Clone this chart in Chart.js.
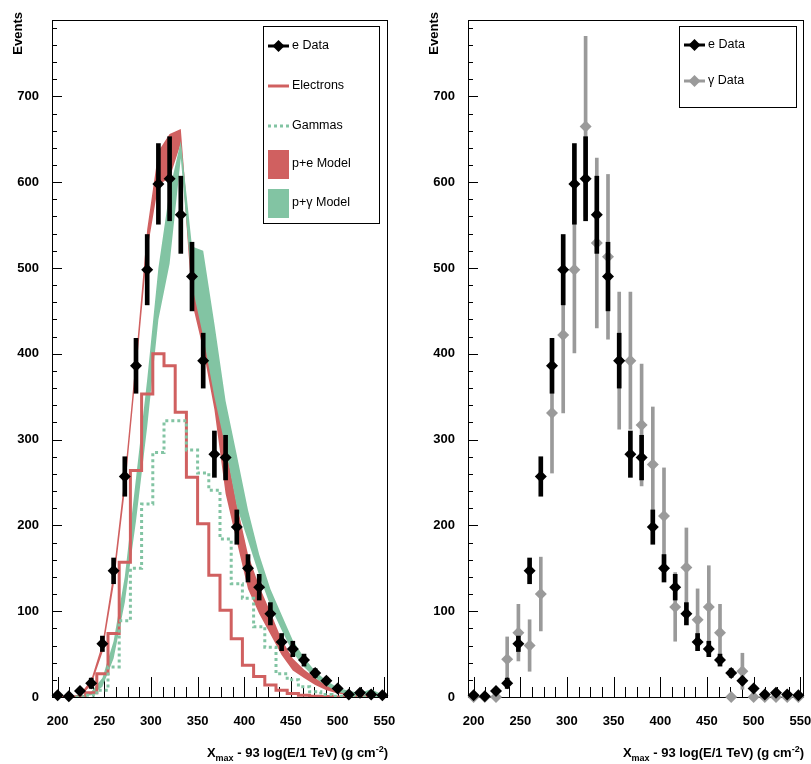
<!DOCTYPE html>
<html>
<head>
<meta charset="utf-8">
<script src="https://cdn.jsdelivr.net/npm/chart.js@4.4.1/dist/chart.umd.min.js"></script>
<style>
  html, body { margin: 0; padding: 0; background: #fff; }
  #wrap { position: relative; width: 811px; height: 764px; }
  canvas { position: absolute; top: 0; }
  #cL { left: 0; }
  #cR { left: 420px; }
</style>
</head>
<body>
<div id="wrap">
  <canvas id="cL" width="420" height="764"></canvas>
  <canvas id="cR" width="391" height="764"></canvas>
</div>
<script>
// bin centres (g cm^-2), 12 wide
const bins = [200, 212, 224, 236, 248, 260, 272, 284, 296, 308, 320, 332, 344, 356, 368,
              380, 392, 404, 416, 428, 440, 452, 464, 476, 488, 500, 512, 524, 536, 548];

// e data and errors
const eData = [2, 1, 7, 16, 62, 147, 257, 386, 498, 598, 604, 562, 490, 392, 283,
               279, 198, 150, 128, 97, 64, 56, 43, 28, 19, 10, 3, 5, 3, 2];
const eErr  = [1, 1, 3, 6, 9, 15, 23, 32, 41, 47, 49, 45, 40, 32, 27,
               26, 20, 16, 15, 13, 10, 9, 7, 5, 4, 3, 2, 2, 2, 1];

// gamma data and errors
const gData = [0, 0, 0, 44, 75, 60, 120, 331, 422, 498, 665, 529, 513, 392, 392,
               317, 271, 211, 105, 151, 90, 105, 75, 0, 30, 0, 0, 0, 0, 0];
const gErr  = [0, 0, 0, 26, 33, 30, 43, 70, 91, 97, 105, 99, 96, 80, 80,
               71, 67, 56, 40, 46, 36, 48, 33, 0, 21, 0, 0, 0, 0, 0];

// simulated histograms
const electrons = [0, 0, 0, 5, 27, 74, 157, 264, 353, 400, 386, 332, 256, 202, 142,
                   101, 68, 37, 24, 14, 8, 4, 2, 1, 0.5, 0, 0, 0, 0, 0];
const gammas    = [0, 0, 0, 2, 8, 35, 89, 150, 225, 285, 322, 322, 288, 261, 241,
                   184, 132, 115, 82, 58, 27, 20, 12, 6, 3, 1, 0.5, 0, 0, 0];

// model bands (low / high)
const peLow  = [0, 0, 0, 14, 52, 130, 240, 378, 520, 597, 605, 645, 460, 405, 335,
                237, 181, 126, 97, 73, 49, 31, 22, 14, 8, 4, 2, 1, 0, 0];
const peHigh = [0, 0, 3, 20, 62, 145, 258, 396, 545, 636, 656, 662, 495, 445, 395,
                293, 225, 166, 129, 99, 67, 45, 32, 22, 14, 8, 4, 3, 2, 1];
const pgLow  = [0, 0, 0, 2, 12, 45, 110, 205, 315, 440, 505, 628, 480, 420, 350,
                290, 222, 182, 142, 106, 78, 52, 35, 22, 13, 6, 3, 2, 4, 0];
const pgHigh = [0, 0, 1, 6, 22, 65, 140, 255, 370, 500, 590, 648, 525, 520, 435,
                345, 282, 218, 166, 126, 96, 66, 46, 30, 19, 11, 7, 5, 9, 3];

const xTicks = [200, 250, 300, 350, 400, 450, 500, 550];
const yTicks = [0, 100, 200, 300, 400, 500, 600, 700];

const RED = '#d06060';
const GREEN = '#82c4a3';
const GREY = '#9a9a9a';
const FONT = '"Liberation Sans", Arial, Helvetica, sans-serif';

const pts = (ys) => bins.map((x, i) => ({ x: x, y: ys[i] }));
const errs = (ys, es) => bins.map((x, i) => ({ x: x, y: [ys[i] - es[i], ys[i] + es[i]] }));

function pointSet(ys, color) {
  return { type: 'line', data: pts(ys), showLine: false, pointStyle: 'rectRot',
           pointRadius: 6, pointBackgroundColor: color, pointBorderWidth: 0, clip: false };
}
function errSet(ys, es, color, w) {
  return { type: 'bar', data: errs(ys, es), backgroundColor: color, barThickness: w,
           grouped: false, borderWidth: 0 };
}
function stepSet(ys, color, dash) {
  return { type: 'line', data: pts(ys), stepped: 'middle', borderColor: color, borderWidth: 3,
           borderDash: dash, pointRadius: 0, fill: false, borderCapStyle: 'butt' };
}
function bandSet(ys, color, fill) {
  return { type: 'line', data: pts(ys), borderWidth: 0, borderColor: 'rgba(0,0,0,0)',
           backgroundColor: color, pointRadius: 0, tension: 0, fill: fill };
}

function diamond(ctx, x, y, r) {
  ctx.beginPath();
  ctx.moveTo(x, y - r); ctx.lineTo(x + r, y); ctx.lineTo(x, y + r); ctx.lineTo(x - r, y);
  ctx.closePath(); ctx.fill();
}

function rootFrame(legend) {
  return {
    id: 'rootFrame',
    beforeDatasetsDraw(chart) {
      const ctx = chart.ctx, a = chart.chartArea;
      const xs = chart.scales.x, ys = chart.scales.y;
      ctx.save();
      ctx.strokeStyle = '#000';
      ctx.lineWidth = 1;
      ctx.strokeRect(a.left + 0.5, a.top + 0.5, a.right - a.left - 1, a.bottom - a.top);
      ctx.beginPath();
      for (let v = xTicks[0]; v <= xs.max; v += 12.5) {
        const px = Math.round(xs.getPixelForValue(v)) + 0.5;
        const len = (v - xTicks[0]) % 50 === 0 ? 20 : 10;
        ctx.moveTo(px, a.bottom); ctx.lineTo(px, a.bottom - len);
      }
      for (let v = 0; v <= ys.max; v += 20) {
        const py = Math.round(ys.getPixelForValue(v)) + 0.5;
        const len = v % 100 === 0 ? 10 : 5;
        ctx.moveTo(a.left, py); ctx.lineTo(a.left + len, py);
      }
      ctx.stroke();
      ctx.restore();
    },
    afterDraw(chart) {
      const ctx = chart.ctx, a = chart.chartArea;
      ctx.save();
      // y title
      ctx.font = 'bold 13px ' + FONT;
      ctx.fillStyle = '#000';
      ctx.translate(a.left - 34, 12);
      ctx.rotate(-Math.PI / 2);
      ctx.textAlign = 'right';
      ctx.textBaseline = 'middle';
      ctx.fillText('Events', 0, 0);
      ctx.restore();

      // x title with sub/superscript
      ctx.save();
      const parts = [
        ['X', 13, 0], ['max', 9, 4], [' - 93 log(E/1 TeV) (g cm', 13, 0], ['-2', 9, -5], [')', 13, 0]
      ];
      let total = 0;
      parts.forEach(p => { ctx.font = 'bold ' + p[1] + 'px ' + FONT; total += ctx.measureText(p[0]).width; });
      let x = a.right - total;
      ctx.textBaseline = 'alphabetic';
      ctx.fillStyle = '#000';
      parts.forEach(p => {
        ctx.font = 'bold ' + p[1] + 'px ' + FONT;
        ctx.fillText(p[0], x, 757 + p[2]);
        x += ctx.measureText(p[0]).width;
      });
      ctx.restore();

      // legend box
      ctx.save();
      const L = legend;
      ctx.fillStyle = '#fff';
      ctx.fillRect(L.x, L.y, L.w, L.h);
      ctx.strokeStyle = '#000';
      ctx.lineWidth = 1;
      ctx.strokeRect(L.x + 0.5, L.y + 0.5, L.w, L.h);
      ctx.font = '12.5px ' + FONT;
      ctx.textBaseline = 'middle';
      L.items.forEach(it => {
        const x0 = L.x + 5, x1 = L.x + 26, y = it.y;
        if (it.kind === 'data') {
          ctx.strokeStyle = it.color; ctx.fillStyle = it.color; ctx.lineWidth = 3;
          ctx.beginPath(); ctx.moveTo(x0, y); ctx.lineTo(x1, y); ctx.stroke();
          diamond(ctx, (x0 + x1) / 2, y, 6);
        } else if (it.kind === 'line') {
          ctx.strokeStyle = it.color; ctx.lineWidth = 3; ctx.setLineDash(it.dash || []);
          ctx.beginPath(); ctx.moveTo(x0, y); ctx.lineTo(x1, y); ctx.stroke();
          ctx.setLineDash([]);
        } else if (it.kind === 'box') {
          ctx.fillStyle = it.color;
          ctx.fillRect(x0, y - 14, x1 - x0, 29);
        }
        ctx.fillStyle = '#000';
        ctx.fillText(it.label, x1 + 3, y);
      });
      ctx.restore();
    }
  };
}

function makePanel(id, datasets, yWidth, padRight, legend) {
  return new Chart(document.getElementById(id), {
    type: 'line',
    data: { datasets: datasets },
    options: {
      responsive: false,
      animation: false,
      devicePixelRatio: 1,
      layout: { padding: { top: 20, right: padRight, left: 0, bottom: 0 } },
      plugins: { legend: { display: false }, tooltip: { enabled: false } },
      scales: {
        x: {
          type: 'linear', min: 194, max: 554, offset: false,
          grid: { display: false }, border: { display: false },
          afterBuildTicks: s => { s.ticks = xTicks.map(v => ({ value: v })); },
          afterFit: s => { s.height = 67; s.paddingLeft = 0; s.paddingRight = 0; },
          ticks: { color: '#000', padding: 9, maxRotation: 0, autoSkip: false,
                   font: { family: FONT, size: 13, weight: 'bold' } }
        },
        y: {
          type: 'linear', min: 0, max: 789,
          grid: { display: false }, border: { display: false },
          afterBuildTicks: s => { s.ticks = yTicks.map(v => ({ value: v })); },
          afterFit: s => { s.width = yWidth; s.paddingTop = 0; s.paddingBottom = 0; },
          ticks: { color: '#000', padding: 5,
                   font: { family: FONT, size: 13, weight: 'bold' } }
        }
      }
    },
    plugins: [rootFrame(legend)]
  });
}

document.addEventListener('DOMContentLoaded', function () {
  makePanel('cL', [
    pointSet(eData, '#000'),
    errSet(eData, eErr, '#000', 4),
    stepSet(gammas, GREEN, [3, 3]),
    stepSet(electrons, RED, []),
    bandSet(pgHigh, GREEN, '+1'),
    bandSet(pgLow, GREEN, false),
    bandSet(peHigh, RED, '+1'),
    bandSet(peLow, RED, false)
  ], 52, 32, {
    x: 263, y: 26, w: 116, h: 197,
    items: [
      { kind: 'data', color: '#000', label: 'e Data', y: 46 },
      { kind: 'line', color: RED, label: 'Electrons', y: 86 },
      { kind: 'line', color: GREEN, dash: [3, 3], label: 'Gammas', y: 126 },
      { kind: 'box', color: RED, label: 'p+e Model', y: 164 },
      { kind: 'box', color: GREEN, label: 'p+\u03b3 Model', y: 203 }
    ]
  });

  makePanel('cR', [
    pointSet(eData, '#000'),
    errSet(eData, eErr, '#000', 4),
    pointSet(gData, GREY),
    errSet(gData, gErr, GREY, 3)
  ], 48, 7, {
    x: 259, y: 26, w: 117, h: 81,
    items: [
      { kind: 'data', color: '#000', label: 'e Data', y: 45 },
      { kind: 'data', color: GREY, label: '\u03b3 Data', y: 81 }
    ]
  });
});
</script>
</body>
</html>
